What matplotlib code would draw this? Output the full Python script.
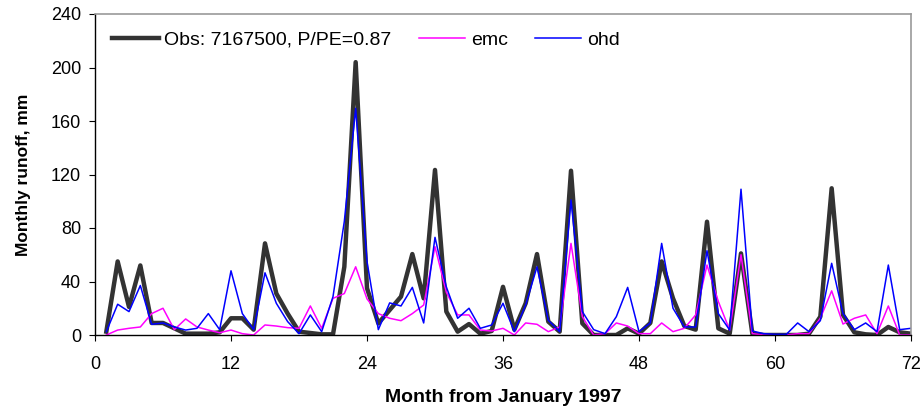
import matplotlib.pyplot as plt

plt.rcParams['font.family'] = ['Liberation Sans', 'DejaVu Sans']

months = list(range(1, 73))

obs = [2.5, 55, 21, 52, 9, 9, 5, 1, 1, 1, 2, 12.5,
       12.5, 4, 68.5, 31, 16, 2.5, 1.5, 0.5, 0.5, 51, 204, 35,
       8.7, 18.7, 28.7, 60.5, 27.4, 123.4, 17.5, 2.5, 8.2, 1, 3, 36,
       4, 23.7, 60.5, 10, 2.5, 122.8, 8.7, 0, 0, 0, 5, 1,
       9, 55, 27.4, 6.7, 4, 84.7, 5, 1, 61, 1, 0, 0,
       0, 0, 1, 13.7, 109.7, 15, 2, 0.5, 0, 6, 2, 1]

emc = [0, 3.7, 5, 6, 16, 20, 4, 12, 6, 3.7, 1.7, 3.7,
       1, 0, 7.5, 6.7, 5.5, 5, 21.7, 5, 27.4, 31, 51, 27,
       16, 12.5, 10.7, 16, 22.4, 66, 32, 15, 15, 3.7, 3, 5,
       0, 9, 8, 2.5, 6, 68.5, 13.7, 0, 1, 9, 6.7, 1,
       1, 9, 2.5, 5, 15, 52.3, 25, 3.7, 60, 1, 0, 0,
       0, 1, 1, 12.5, 33, 8.2, 12.5, 15, 1, 21.7, 0, 0]

ohd = [2.5, 23, 17.5, 37, 8, 9, 6, 3.7, 5, 16, 4, 48,
       16, 4, 46.5, 23.7, 10, 1, 15, 2.5, 28.7, 85, 169.5, 55,
       4, 24, 21.7, 35.6, 9, 73, 36, 12.5, 20, 5, 7.5, 23.7,
       2.5, 22.4, 51, 11, 2.5, 101, 17.5, 4, 1, 13.7, 35.6, 2.5,
       9, 68.5, 20, 6, 6, 63, 16, 3.7, 109, 3, 1, 0.5,
       0.5, 9, 2.5, 10.7, 53.6, 16, 4, 9, 2.5, 52.3, 4, 5]

fig = plt.figure(figsize=(9.23, 4.12), dpi=100)
ax = fig.add_axes([95 / 923, 1 - 335 / 412, 816 / 923, 321 / 412])

ax.plot(months, obs, color='#333333', linewidth=3.2, label='Obs: 7167500, P/PE=0.87')
ax.plot(months, emc, color='#ff00ff', linewidth=1.1, label='emc')
ax.plot(months, ohd, color='#0000ff', linewidth=1.1, label='ohd')

ax.set_xlim(0, 72)
ax.set_ylim(0, 240)
ax.set_xticks(range(0, 73, 12))
ax.set_yticks(range(0, 241, 40))
ax.tick_params(axis='both', direction='out', length=4, labelsize=13, pad=6)
ax.tick_params(axis='x', pad=11)

for s in ['top', 'right']:
    ax.spines[s].set_color('#999999')
    ax.spines[s].set_linewidth(1.2)
for s in ['left', 'bottom']:
    ax.spines[s].set_color('black')
    ax.spines[s].set_linewidth(1.0)

ax.set_xlabel('Month from January 1997', fontsize=14, fontweight='bold', labelpad=12)
ax.set_ylabel('Monthly runoff, mm', fontsize=12.5, fontweight='bold', labelpad=14)

ax.legend(loc='center left', ncol=3, frameon=False, fontsize=14,
          handlelength=2.4, columnspacing=1.4, handletextpad=0.28,
          borderpad=0, borderaxespad=0,
          bbox_to_anchor=(17 / 816, (335 - 40) / 321))

plt.savefig('out.png', dpi=100)
